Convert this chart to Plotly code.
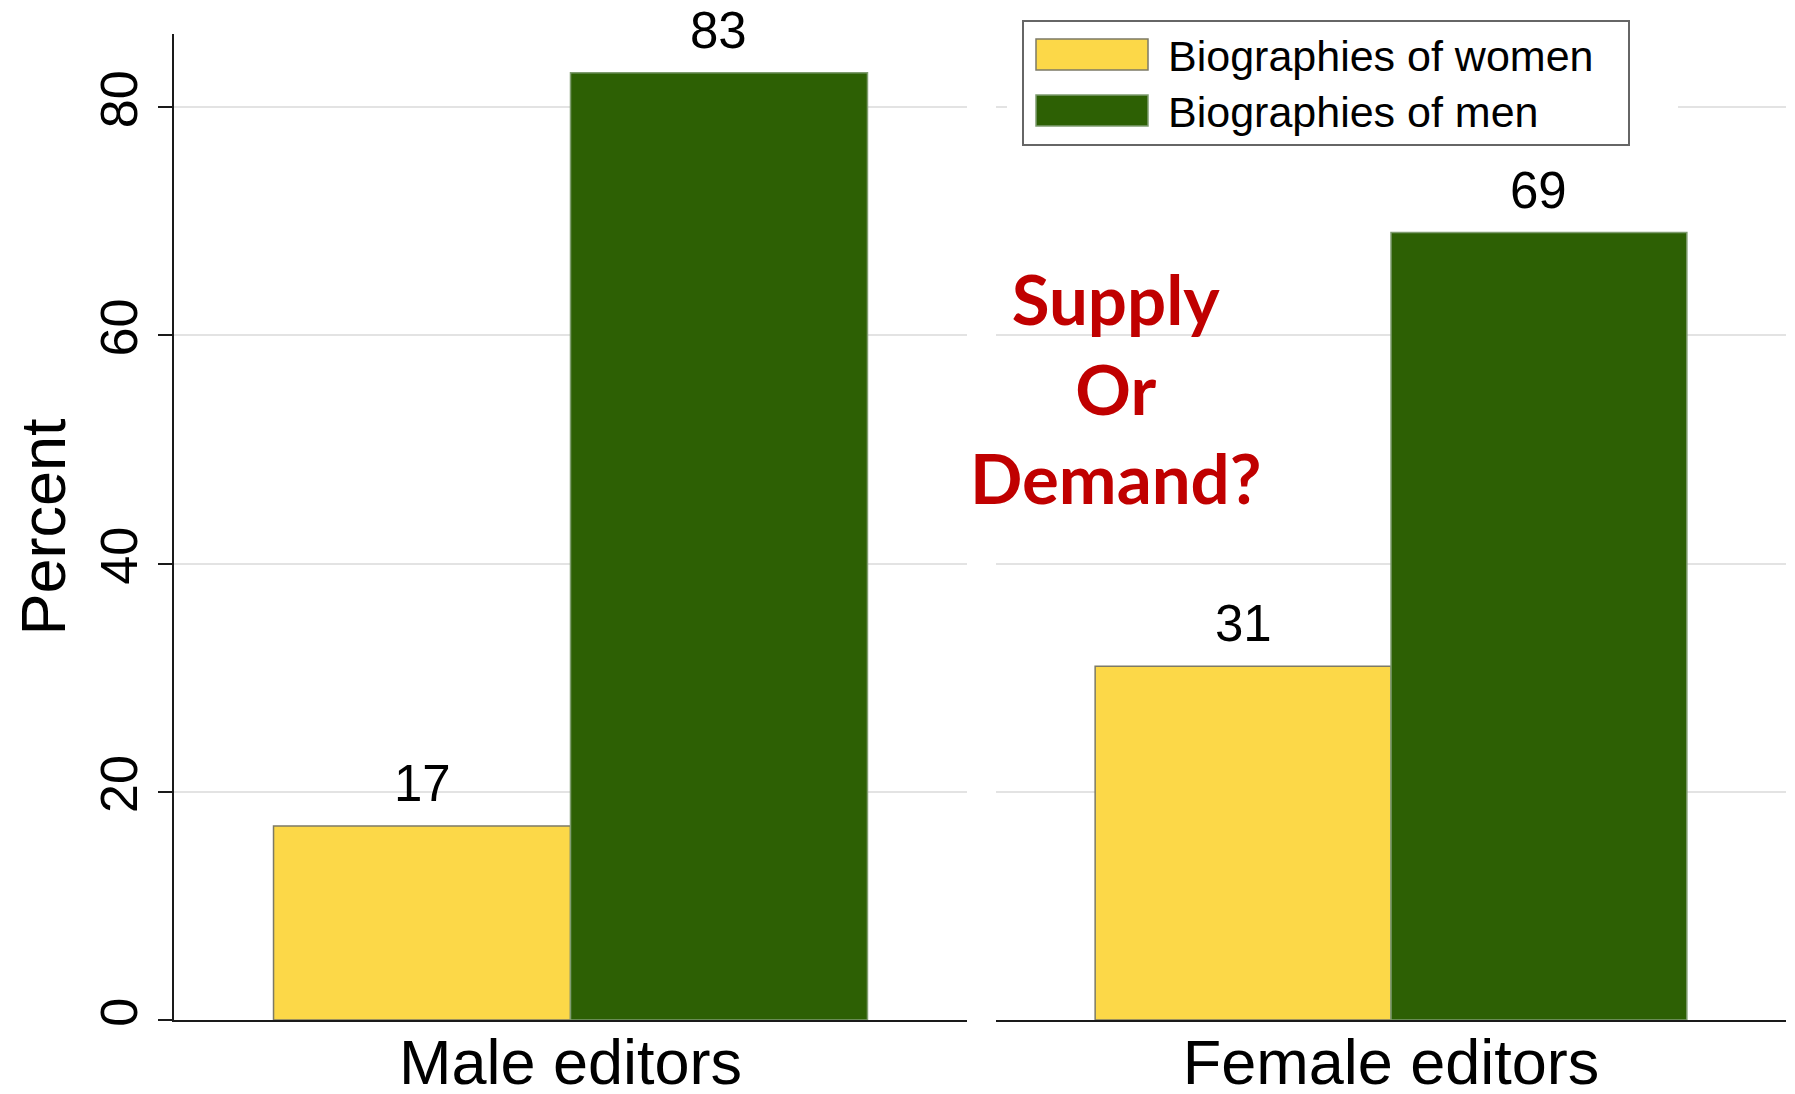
import plotly.graph_objects as go

# ---- data ----
panels = ["Male editors", "Female editors"]
series_names = ["Biographies of women", "Biographies of men"]
women_pct = [17, 31]
men_pct = [83, 69]
y_ticks = [0, 20, 40, 60, 80]
y_max = 86.4
annotation_lines = ["Supply", "Or", "Demand?"]

# ---- styles ----
FONT = "Liberation Sans, Arial, sans-serif"
YELLOW = "#FCD848"
GREEN = "#2D6004"
YELLOW_EDGE = "#7c7a66"
GREEN_EDGE = "#7f9c70"
GRID = "#e3e3e3"
BARGAP = 0.251
OFF = 8  # default page body margin
W, H = 1795 - 2 * OFF, 1094 - 2 * OFF
ML, MT = 174 - OFF, 34 - OFF
PLOT_BOTTOM = 1020 - OFF
PLOT_RIGHT = 1786 - OFF
MR = W - PLOT_RIGHT
MB = H - PLOT_BOTTOM
PW, PH = W - ML - MR, H - MT - MB


def px_x(p):
    # p: pixel x in window coordinates -> paper fraction
    return (p - OFF - ML) / PW


def px_y(p):
    # p: pixel y in window coordinates -> paper fraction
    return (PLOT_BOTTOM - (p - OFF)) / PH


domains = [[0, px_x(967)], [px_x(996), 1]]

series = [
    (series_names[0], women_pct, YELLOW, YELLOW_EDGE),
    (series_names[1], men_pct, GREEN, GREEN_EDGE),
]

fig = go.Figure()
value_labels = []
for i, panel in enumerate(panels):
    xa = "x" if i == 0 else "x2"
    ya = "y" if i == 0 else "y2"
    panel_px = (domains[i][1] - domains[i][0]) * PW
    bar_px = panel_px * (1 - BARGAP) / len(series)
    for k, (name, vals, color, edge) in enumerate(series):
        fig.add_trace(go.Bar(
            x=[panel], y=[vals[i]], name=name,
            marker=dict(color=color, line=dict(color=edge, width=1.5)),
            cliponaxis=False,
            xaxis=xa, yaxis=ya, showlegend=False,
        ))
        value_labels.append(dict(
            text=str(vals[i]), x=panel, y=vals[i], xref=xa, yref=ya,
            xshift=(k - (len(series) - 1) / 2) * bar_px,
            yanchor="bottom", xanchor="center", yshift=12, showarrow=False,
            font=dict(size=51, color="black", family=FONT),
        ))

axis_common = dict(showline=True, linecolor="#1a1a1a", linewidth=2,
                   ticks="", automargin=False, ticklabelstandoff=-14,
                   tickfont=dict(size=63, color="black", family=FONT))

fig.update_layout(
    width=W, height=H,
    margin=dict(l=ML, r=MR, t=MT, b=MB),
    paper_bgcolor="white", plot_bgcolor="white",
    barmode="group", bargap=BARGAP, bargroupgap=0,
    showlegend=False,
    font=dict(family=FONT, color="black"),
    xaxis=dict(domain=domains[0], anchor="y", **axis_common),
    xaxis2=dict(domain=domains[1], anchor="y2", **axis_common),
    yaxis=dict(
        range=[0, y_max], tickvals=y_ticks, ticktext=[str(t) for t in y_ticks],
        showline=True, linecolor="#1a1a1a", linewidth=2,
        ticks="outside", ticklen=14, tickwidth=2, tickcolor="#1a1a1a",
        tickangle=-90, ticklabelstandoff=0,
        tickfont=dict(size=52, color="black", family=FONT),
        showgrid=True, gridcolor=GRID, gridwidth=1.5, zeroline=False,
        title=dict(text="Percent", font=dict(size=63, color="black", family=FONT), standoff=41),
        automargin=False,
    ),
    yaxis2=dict(
        range=[0, y_max], tickvals=y_ticks, matches="y", anchor="x2",
        showline=False, ticks="", showticklabels=False,
        showgrid=True, gridcolor=GRID, gridwidth=1.5, zeroline=False,
        automargin=False,
    ),
)

# ---- legend (drawn manually to match large swatches) ----
shapes = [
    dict(type="rect", xref="paper", yref="paper", layer="above",
         x0=px_x(1007), x1=px_x(1678), y0=px_y(150), y1=px_y(15),
         fillcolor="white", line=dict(width=0)),
    dict(type="rect", xref="paper", yref="paper", layer="above",
         x0=px_x(1023), x1=px_x(1629), y0=px_y(145), y1=px_y(21),
         fillcolor="rgba(0,0,0,0)", line=dict(color="#666666", width=2)),
    dict(type="rect", xref="paper", yref="paper", layer="above",
         x0=px_x(1036), x1=px_x(1148), y0=px_y(70), y1=px_y(39),
         fillcolor=YELLOW, line=dict(color=YELLOW_EDGE, width=1.5)),
    dict(type="rect", xref="paper", yref="paper", layer="above",
         x0=px_x(1036), x1=px_x(1148), y0=px_y(126), y1=px_y(95),
         fillcolor=GREEN, line=dict(color=GREEN_EDGE, width=1.5)),
]
annotations = value_labels + [
    dict(text=series_names[0], xref="paper", yref="paper", x=px_x(1166), y=px_y(56),
         xanchor="left", yanchor="middle", showarrow=False,
         font=dict(size=43, color="black", family=FONT)),
    dict(text=series_names[1], xref="paper", yref="paper", x=px_x(1166), y=px_y(112),
         xanchor="left", yanchor="middle", showarrow=False,
         font=dict(size=43, color="black", family=FONT)),
    dict(text="<b>" + "<br>".join(annotation_lines) + "</b>", xref="paper", yref="paper",
         x=px_x(1116), y=px_y(388), xanchor="center", yanchor="middle",
         align="center", showarrow=False,
         font=dict(size=69, color="#C00000", family="Lato, Open Sans, sans-serif")),
]
fig.update_layout(shapes=shapes, annotations=annotations)

fig.write_html("out.html")
